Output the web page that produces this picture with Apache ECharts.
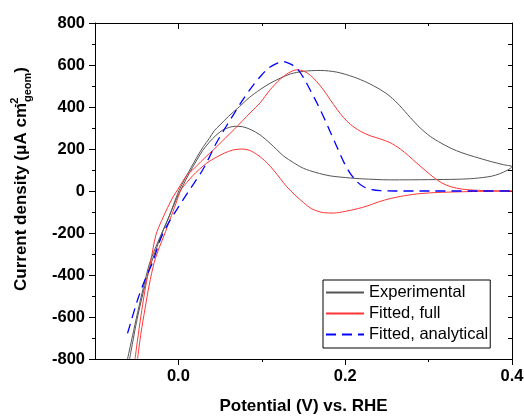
<!DOCTYPE html>
<html>
<head>
<meta charset="utf-8">
<script src="https://cdn.jsdelivr.net/npm/echarts@6/dist/echarts.min.js"></script>
<style>
  html, body { margin: 0; padding: 0; background: #fff; }
  #chart { width: 524px; height: 416px; }
</style>
</head>
<body>
<div id="chart"></div>
<script>
// potential (V vs RHE), current density (uA cm-2 geom)
const expForward = [
  [-0.061, -800], [-0.055, -690], [-0.049, -580], [-0.042, -460], [-0.035, -350], [-0.028, -275],
  [-0.021, -210], [-0.012, -130], [-0.004, -45], [0.001, 5], [0.008, 60], [0.015, 110], [0.022, 160],
  [0.03, 212], [0.037, 250], [0.043, 287], [0.05, 315], [0.06, 355], [0.073, 401], [0.085, 445],
  [0.098, 483], [0.11, 513], [0.122, 537], [0.134, 557], [0.15, 570], [0.17, 574], [0.19, 566],
  [0.21, 543], [0.226, 517], [0.242, 483], [0.254, 450], [0.265, 408], [0.278, 350], [0.29, 300],
  [0.302, 260], [0.315, 228], [0.327, 203], [0.34, 182], [0.355, 163], [0.375, 140], [0.39, 125], [0.4, 116]
]
const expReverse = [
  [0.4, 116], [0.395, 100], [0.385, 82], [0.375, 70], [0.355, 60], [0.335, 56], [0.3, 54], [0.254, 53],
  [0.22, 58], [0.206, 62], [0.182, 72], [0.165, 88], [0.15, 108], [0.138, 135], [0.126, 167],
  [0.118, 197], [0.11, 227], [0.098, 267], [0.087, 292], [0.077, 306], [0.068, 308], [0.061, 303],
  [0.053, 290], [0.045, 265], [0.037, 232], [0.029, 192], [0.021, 140], [0.013, 84], [0.006, 30],
  [-0.002, -35], [-0.01, -110], [-0.018, -185], [-0.026, -270], [-0.034, -360], [-0.042, -480],
  [-0.05, -620], [-0.0585, -800]
]
const fullForward = [
  [-0.052, -800], [-0.048, -680], [-0.044, -570], [-0.039, -448], [-0.033, -330], [-0.027, -210],
  [-0.02, -140], [-0.013, -80], [-0.006, -25], [-0.001, 5], [0.005, 45], [0.011, 80], [0.017, 100],
  [0.027, 140], [0.037, 178], [0.047, 215], [0.057, 255], [0.067, 294], [0.077, 335], [0.087, 376],
  [0.098, 420], [0.11, 482], [0.122, 532], [0.132, 562], [0.142, 577], [0.15, 571], [0.158, 552],
  [0.166, 520], [0.174, 481], [0.182, 435], [0.19, 390], [0.198, 350], [0.206, 318], [0.218, 285],
  [0.23, 263], [0.242, 248], [0.254, 230], [0.266, 200], [0.276, 168], [0.286, 132], [0.296, 98],
  [0.306, 65], [0.316, 38], [0.327, 20], [0.34, 9], [0.355, 4], [0.375, 1], [0.4, 0]
]
const fullReverse = [
  [0.4, 0], [0.375, -1], [0.347, -3], [0.327, -5], [0.306, -8], [0.286, -14], [0.266, -26],
  [0.254, -36], [0.24, -52], [0.226, -72], [0.215, -84], [0.2, -97], [0.186, -105], [0.174, -103],
  [0.16, -85], [0.15, -55], [0.14, -20], [0.13, 20], [0.122, 60], [0.115, 95], [0.106, 135],
  [0.095, 172], [0.085, 194], [0.076, 200], [0.065, 195], [0.055, 180], [0.045, 160], [0.034, 133],
  [0.025, 103], [0.017, 72], [0.01, 40], [0.003, 5], [-0.003, -60], [-0.01, -135], [-0.017, -210],
  [-0.023, -270], [-0.029, -340], [-0.035, -448], [-0.04, -560], [-0.045, -680], [-0.049, -800]
]
const analytical = [
  [-0.061, -678], [-0.049, -519], [-0.041, -432], [-0.031, -340], [-0.021, -225], [-0.011, -146],
  [-0.001, -83], [0.01, -15], [0.02, 45], [0.029, 100], [0.037, 160], [0.045, 225], [0.057, 306],
  [0.067, 370], [0.077, 433], [0.088, 495], [0.098, 544], [0.108, 585], [0.118, 608], [0.126, 616],
  [0.134, 605], [0.142, 584], [0.15, 540], [0.158, 481], [0.166, 420], [0.174, 354], [0.182, 282],
  [0.19, 211], [0.198, 140], [0.206, 84], [0.214, 45], [0.222, 20], [0.232, 7], [0.242, 2],
  [0.26, 0], [0.3, 0], [0.35, 0], [0.4, 0]
]
const xMajorTicks = [0, 0.2, 0.4]
const xMinorTicks = [0.1, 0.3]
const seriesNames = ['Experimental', 'Fitted, full', 'Fitted, analytical']

const FONT = 'Liberation Sans, Arial, sans-serif'
const chart = echarts.init(document.getElementById('chart'))

const xBase = { type: 'value', min: -0.1, max: 0.4, splitLine: { show: false } }
const black = { color: '#000', width: 1 }

chart.setOption({
  animation: false,
  grid: { left: 95, right: 12, top: 23, bottom: 57, outerBoundsMode: 'none' },
  legend: {
    data: seriesNames,
    orient: 'vertical',
    left: 323,
    top: 280,
    itemWidth: 38,
    itemHeight: 14,
    itemGap: 4,
    padding: [4, 2, 5, 2],
    borderColor: '#000',
    borderWidth: 1,
    borderRadius: 0,
    backgroundColor: '#fff',
    itemStyle: { opacity: 0 },
    textStyle: { fontFamily: FONT, fontSize: 16.5, color: '#000', lineHeight: 17 },
  },
  xAxis: [
    {
      ...xBase,
      position: 'bottom',
      axisLine: { onZero: false, lineStyle: black },
      axisTick: { length: 6, customValues: xMajorTicks, lineStyle: black },
      axisLabel: {
        customValues: xMajorTicks,
        formatter: (v) => v.toFixed(1),
        fontFamily: FONT, fontSize: 16.5, fontWeight: 'bold', color: '#000', margin: 9,
      },
      name: 'Potential (V) vs. RHE',
      nameLocation: 'middle',
      nameGap: 39,
      nameTextStyle: { fontFamily: FONT, fontSize: 17, fontWeight: 'bold', color: '#000' },
    },
    {
      ...xBase,
      position: 'bottom',
      axisLine: { show: false, onZero: false },
      axisTick: { length: 3, customValues: xMinorTicks, lineStyle: black },
      axisLabel: { show: false },
    },
    {
      ...xBase,
      position: 'top',
      axisLine: { onZero: false, lineStyle: black },
      axisTick: { inside: true, length: 6, customValues: xMajorTicks, lineStyle: black },
      axisLabel: { show: false },
    },
    {
      ...xBase,
      position: 'top',
      axisLine: { show: false, onZero: false },
      axisTick: { inside: true, length: 3, customValues: xMinorTicks, lineStyle: black },
      axisLabel: { show: false },
    },
  ],
  yAxis: [
    {
      type: 'value',
      min: -800,
      max: 800,
      interval: 200,
      position: 'left',
      splitLine: { show: false },
      axisLine: { show: true, onZero: false, lineStyle: black },
      axisTick: { length: 6, lineStyle: black },
      minorTick: { show: true, splitNumber: 2, length: 3, lineStyle: black },
      axisLabel: { fontFamily: FONT, fontSize: 16.5, fontWeight: 'bold', color: '#000', margin: 10 },
      name: '{t|Current density (μA cm}{sup|-2}{sub|geom}{t|)}',
      nameLocation: 'middle',
      nameRotate: 90,
      nameGap: 62,
      nameTextStyle: {
        fontFamily: FONT, fontSize: 17, fontWeight: 'bold', color: '#000',
        padding: [0, 0, 0, 24],
        rich: {
          t: { fontFamily: FONT, fontSize: 17, fontWeight: 'bold', color: '#000', lineHeight: 24 },
          sup: { fontFamily: FONT, fontSize: 11, fontWeight: 'bold', color: '#000', lineHeight: 12, verticalAlign: 'top', width: 1 },
          sub: { fontFamily: FONT, fontSize: 11, fontWeight: 'bold', color: '#000', lineHeight: 12, verticalAlign: 'bottom' },
        },
      },
    },
    {
      type: 'value',
      min: -800,
      max: 800,
      interval: 100,
      position: 'right',
      splitLine: { show: false },
      axisLine: { show: true, onZero: false, lineStyle: black },
      axisTick: { inside: true, length: 4, lineStyle: black },
      axisLabel: { show: false },
    },
  ],
  series: [
    {
      name: seriesNames[0],
      type: 'line',
      symbol: 'none',
      smooth: 0.3,
      data: expForward.concat(expReverse),
      lineStyle: { color: '#555', width: 1 },
      itemStyle: { color: '#555' },
    },
    {
      name: seriesNames[1],
      type: 'line',
      symbol: 'none',
      smooth: 0.3,
      data: fullForward.concat(fullReverse),
      lineStyle: { color: '#ff3535', width: 1 },
      itemStyle: { color: '#ff3535' },
    },
    {
      name: seriesNames[2],
      type: 'line',
      symbol: 'none',
      smooth: 0.3,
      data: analytical,
      lineStyle: { color: '#0000ff', width: 1.3, type: [10, 6] },
      itemStyle: { color: '#0000ff' },
    },
  ],
})
</script>
</body>
</html>
